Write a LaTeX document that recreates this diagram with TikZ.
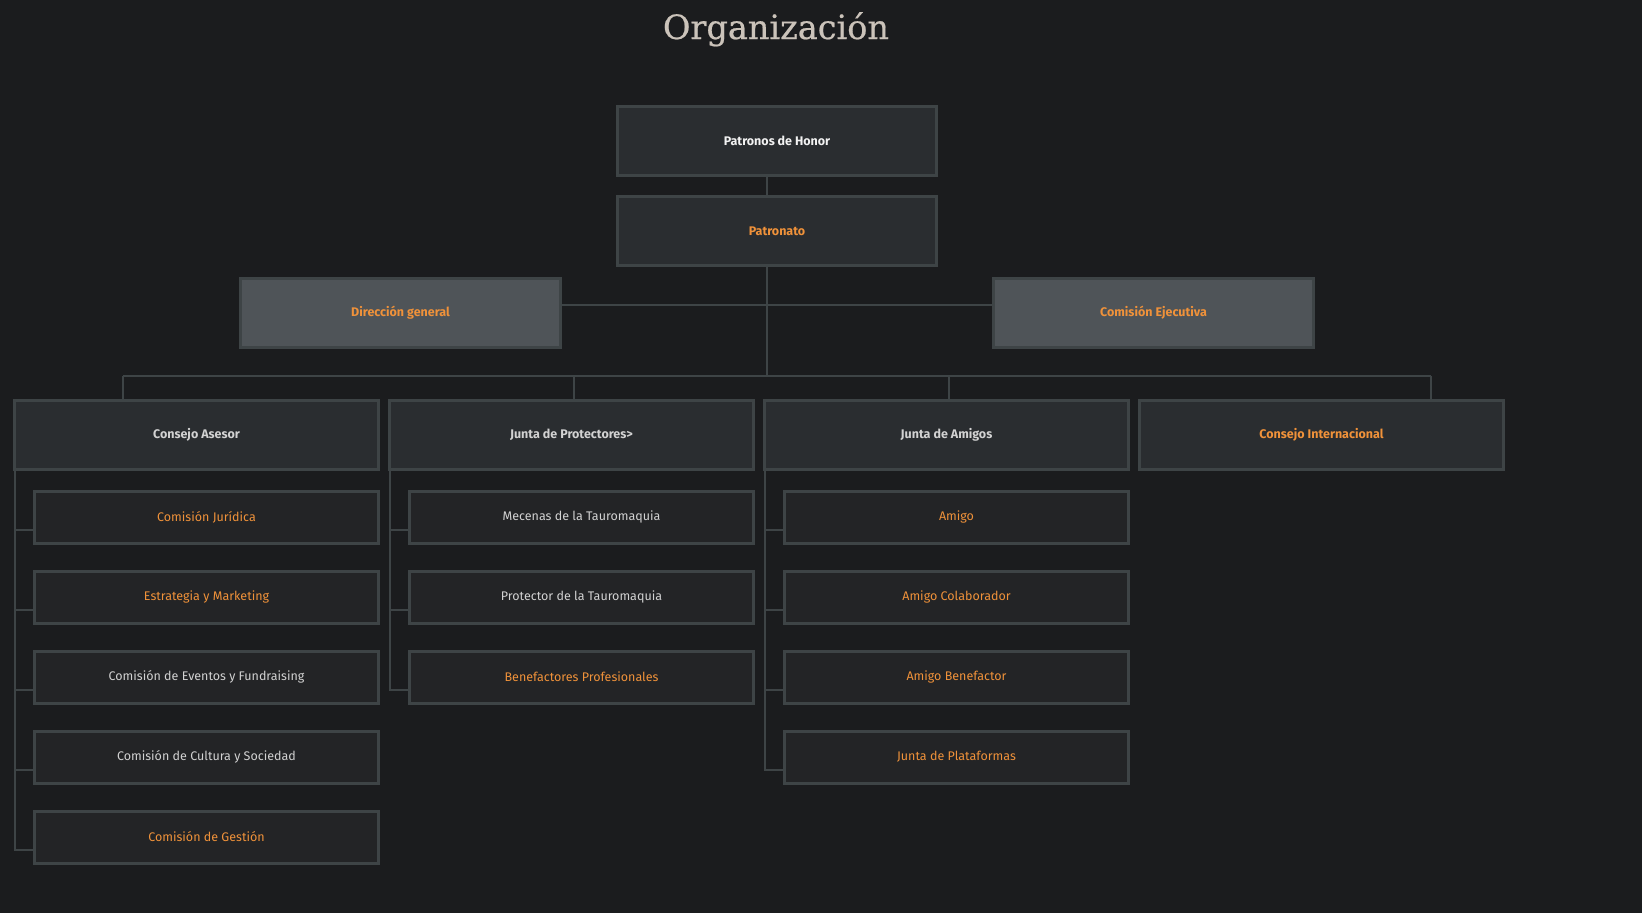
\documentclass[tikz,border=0pt]{standalone}
\usepackage{fontspec}
\setmainfont{Fira Sans}
\newfontfamily\titlefont[AutoFakeBold=0.6]{DejaVu Serif}
\usetikzlibrary{calc}
\definecolor{bgc}{HTML}{1B1C1E}
\definecolor{linec}{HTML}{3E4446}
\definecolor{topfill}{HTML}{2A2D30}
\definecolor{subfill}{HTML}{232426}
\definecolor{grayfill}{HTML}{4F5458}
\definecolor{orangec}{HTML}{F0923A}
\definecolor{lightc}{HTML}{D2D2D2}
\definecolor{whitec}{HTML}{F2F2F2}
\definecolor{titlec}{HTML}{CBC3BA}
\tikzset{
  box/.style={draw=linec, line width=3pt, inner sep=0pt, outer sep=0pt, align=center},
  topbox/.style={box, fill=topfill, minimum width=364pt, minimum height=69pt, font=\fontsize{12.5}{14}\selectfont\bfseries},
  headbox/.style={box, fill=topfill, minimum width=319pt, minimum height=69pt, font=\fontsize{12.5}{14}\selectfont\bfseries},
  graybox/.style={box, fill=grayfill, minimum width=320pt, minimum height=69pt, font=\fontsize{12.5}{14}\selectfont\bfseries, text=orangec},
  subbox/.style={box, fill=subfill, minimum width=344pt, minimum height=52pt, font=\fontsize{12.5}{14}\selectfont},
  org/.style={text=orangec},
  lt/.style={text=lightc},
  conn/.style={draw=linec, line width=2pt},
}
\begin{document}
\begin{tikzpicture}[x=1pt, y=-1pt]
\fill[bgc] (0,0) rectangle (1642,913);
\useasboundingbox (0,0) rectangle (1642,913);

\node[anchor=base, text=titlec, font=\titlefont\bfseries\fontsize{33.5}{36}\selectfont] (title) at (776,39) {Organización};

% head boxes
\node[headbox, text=whitec] (ph) at (777,141) {Patronos de Honor};
\node[headbox, org] (pa) at (777,231) {Patronato};
\node[graybox] (dg) at (400.5,313) {Dirección general};
\node[graybox] (ce) at (1153.5,313) {Comisión Ejecutiva};

% top row
\node[topbox, lt] (ca) at (196.5,435) {Consejo Asesor};
\node[topbox, lt] (jp) at (571.5,435) {Junta de Protectores>};
\node[topbox, lt] (ja) at (946.5,435) {Junta de Amigos};
\node[topbox, org] (ci) at (1321.5,435) {Consejo Internacional};

% column 1
\node[subbox, org] (c1) at (206.5,517) {Comisión Jurídica};
\node[subbox, org] (c2) at (206.5,597) {Estrategia y Marketing};
\node[subbox, lt] (c3) at (206.5,677) {Comisión de Eventos y Fundraising};
\node[subbox, lt] (c4) at (206.5,757) {Comisión de Cultura y Sociedad};
\node[subbox, org] (c5) at (206.5,837) {Comisión de Gestión};

% column 2
\node[subbox, lt] (p1) at (581.5,517) {Mecenas de la Tauromaquia};
\node[subbox, lt] (p2) at (581.5,597) {Protector de la Tauromaquia};
\node[subbox, org] (p3) at (581.5,677) {Benefactores Profesionales};

% column 3
\node[subbox, org] (a1) at (956.5,517) {Amigo};
\node[subbox, org] (a2) at (956.5,597) {Amigo Colaborador};
\node[subbox, org] (a3) at (956.5,677) {Amigo Benefactor};
\node[subbox, org] (a4) at (956.5,757) {Junta de Plataformas};

% trunk and bus
\coordinate (trunk) at (767,376);
\coordinate (busl) at (123,376);
\coordinate (busr) at (1431,376);
\draw[conn] (ph.south -| trunk) -- (pa.north -| trunk);
\draw[conn] (pa.south -| trunk) -- (trunk);
\draw[conn] ([yshift=8pt]dg.east) -- ([yshift=8pt]ce.west);
\draw[conn] (busl) -- (busr);
\draw[conn] ([xshift=-73.5pt]ca.north) -- (busl);
\draw[conn] ([xshift=2.5pt]jp.north) -- ([xshift=2.5pt]jp.north |- busl);
\draw[conn] ([xshift=2.5pt]ja.north) -- ([xshift=2.5pt]ja.north |- busl);
\draw[conn] ([xshift=109.5pt]ci.north) -- (busr);

% trees
\foreach \c in {c1,c2,c3,c4,c5}
  \draw[conn] (ca.south west) |- ([yshift=-13pt]\c.west);
\foreach \c in {p1,p2,p3}
  \draw[conn] (jp.south west) |- ([yshift=-13pt]\c.west);
\foreach \c in {a1,a2,a3,a4}
  \draw[conn] (ja.south west) |- ([yshift=-13pt]\c.west);
\end{tikzpicture}
\end{document}
